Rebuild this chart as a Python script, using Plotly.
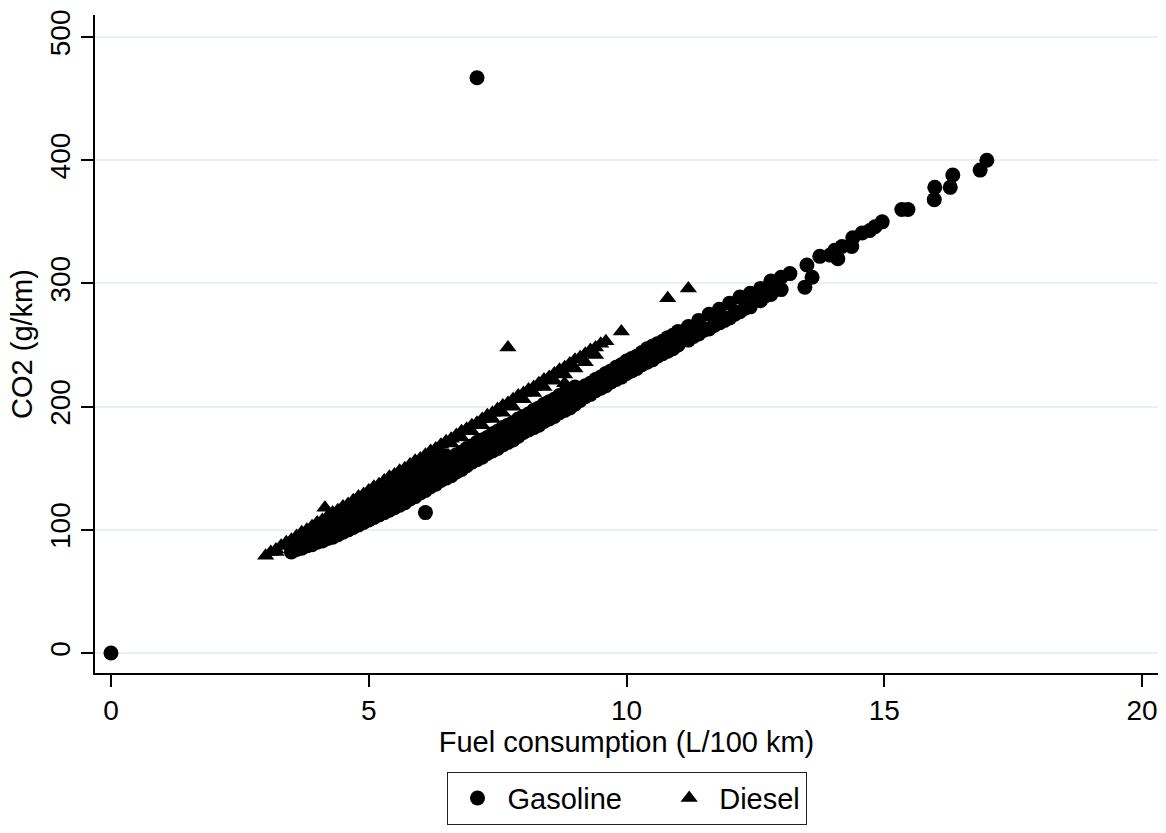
import plotly.graph_objects as go

# fuel consumption (L/100 km), CO2 (g/km)
gasoline_points = [
    (0.0, 0), (7.1, 467), (6.1, 114),
    (3.5, 82), (3.5, 86), (3.6, 84), (3.6, 89), (3.7, 85), (3.7, 91),
    (3.8, 87), (3.8, 91), (3.8, 95), (3.9, 88), (3.9, 93), (3.9, 97),
    (4.0, 90), (4.0, 95), (4.0, 100), (4.1, 91), (4.1, 97), (4.1, 102),
    (4.2, 93), (4.2, 99), (4.2, 105), (4.3, 94), (4.3, 101), (4.3, 107),
    (4.4, 96), (4.4, 103), (4.4, 110), (4.5, 98), (4.5, 105), (4.5, 112),
    (4.6, 100), (4.6, 107), (4.6, 114),
    (4.7, 102), (4.7, 108), (4.7, 115), (4.7, 117),
    (4.8, 104), (4.8, 110), (4.8, 116), (4.8, 120),
    (4.9, 106), (4.9, 112), (4.9, 118), (4.9, 122),
    (5.0, 108), (5.0, 114), (5.0, 120), (5.0, 125),
    (5.1, 110), (5.1, 116), (5.1, 122), (5.1, 127),
    (5.2, 112), (5.2, 118), (5.2, 124), (5.2, 130),
    (5.3, 114), (5.3, 120), (5.3, 126), (5.3, 132),
    (5.4, 116), (5.4, 122), (5.4, 129), (5.4, 135),
    (5.5, 118), (5.5, 124), (5.5, 131), (5.5, 137),
    (5.6, 120), (5.6, 127), (5.6, 134), (5.6, 140),
    (5.7, 122), (5.7, 129), (5.7, 136), (5.7, 142),
    (5.8, 125), (5.8, 132), (5.8, 139), (5.8, 145),
    (5.9, 127), (5.9, 134), (5.9, 141), (5.9, 147),
    (6.0, 130), (6.0, 137), (6.0, 144), (6.0, 150),
    (6.1, 132), (6.1, 139), (6.1, 146), (6.1, 152),
    (6.2, 135), (6.2, 142), (6.2, 149), (6.2, 155),
    (6.3, 137), (6.3, 144), (6.3, 151), (6.3, 157),
    (6.4, 140), (6.4, 147), (6.4, 153), (6.4, 160),
    (6.5, 142), (6.5, 149), (6.5, 155), (6.5, 160),
    (6.6, 144), (6.6, 151), (6.6, 158), (6.7, 147), (6.7, 153), (6.7, 161),
    (6.8, 149), (6.8, 156), (6.8, 163), (6.9, 152), (6.9, 159), (6.9, 166),
    (7.0, 155), (7.0, 161), (7.0, 168), (7.1, 157), (7.1, 164), (7.1, 171),
    (7.2, 159), (7.2, 166), (7.2, 173), (7.3, 162), (7.3, 169), (7.3, 175),
    (7.4, 164), (7.4, 171), (7.4, 178), (7.5, 166), (7.5, 173), (7.5, 180),
    (7.6, 169), (7.6, 176), (7.6, 183), (7.7, 171), (7.7, 178), (7.7, 185),
    (7.8, 173), (7.8, 180), (7.8, 187), (7.9, 176), (7.9, 183), (7.9, 190),
    (8.0, 179), (8.0, 185), (8.0, 192), (8.1, 181), (8.1, 188), (8.1, 194),
    (8.2, 183), (8.2, 190), (8.2, 197), (8.3, 185), (8.3, 192), (8.3, 199),
    (8.4, 188), (8.4, 195), (8.4, 202), (8.5, 190), (8.5, 197), (8.5, 204),
    (8.6, 192), (8.6, 199), (8.6, 206), (8.7, 195), (8.7, 202), (8.7, 209),
    (8.8, 197), (8.8, 204), (8.8, 211), (8.9, 199), (8.9, 206), (8.9, 213),
    (9.0, 202), (9.0, 209), (9.0, 216),
    (9.1, 205), (9.1, 213), (9.2, 208), (9.2, 217), (9.3, 210), (9.3, 219),
    (9.4, 213), (9.4, 222), (9.5, 215), (9.5, 224), (9.6, 217), (9.6, 227),
    (9.7, 220), (9.7, 229), (9.8, 222), (9.8, 232), (9.9, 224), (9.9, 234),
    (10.0, 227), (10.0, 237), (10.1, 229), (10.1, 239), (10.2, 231), (10.2, 241),
    (10.3, 234), (10.3, 244), (10.4, 236), (10.4, 247), (10.5, 238), (10.5, 249),
    (10.6, 241), (10.6, 251), (10.7, 243), (10.7, 253), (10.8, 245), (10.8, 256),
    (10.9, 247), (10.9, 258), (11.0, 250), (11.0, 261), (11.2, 254), (11.2, 265),
    (11.3, 257), (11.4, 259), (11.4, 270), (11.5, 262), (11.6, 263), (11.6, 275),
    (11.7, 266), (11.8, 268), (11.8, 279), (11.9, 270), (12.0, 272), (12.0, 284),
    (12.1, 275), (12.2, 277), (12.2, 289), (12.3, 280), (12.4, 281), (12.4, 292),
    (12.6, 286), (12.6, 296), (12.7, 290), (12.8, 291), (12.8, 302), (13.0, 295),
    (13.0, 305), (13.17, 308), (13.46, 297), (13.5, 315), (13.6, 305),
    (13.75, 322), (13.95, 323), (14.04, 327), (14.1, 320),
    (14.18, 330), (14.37, 330), (14.39, 337), (14.57, 341),
    (14.72, 343), (14.82, 346), (14.96, 350), (15.34, 360),
    (15.46, 360), (15.97, 368), (15.98, 378), (16.28, 378),
    (16.33, 388), (16.86, 392), (16.99, 400),
]

diesel_points = [
    (3.0, 79), (3.1, 82), (3.2, 84), (3.3, 87), (3.4, 90), (3.5, 92),
    (3.6, 95), (3.7, 98), (3.8, 100), (3.9, 103), (4.0, 106), (4.1, 108),
    (4.2, 111), (4.3, 114), (4.4, 116), (4.5, 119), (4.6, 121), (4.7, 124),
    (4.8, 127), (4.9, 129), (5.0, 132), (5.1, 135), (5.2, 137), (5.3, 140),
    (5.4, 143), (5.5, 145), (5.6, 148), (5.7, 150), (5.8, 153), (5.9, 156),
    (6.0, 158), (6.1, 161), (6.2, 164), (6.3, 166), (6.4, 169), (6.5, 172),
    (6.6, 174), (6.7, 177), (6.8, 180), (6.9, 182), (7.0, 185), (7.1, 187),
    (7.2, 190), (7.3, 193), (7.4, 195), (7.5, 198), (7.6, 201), (7.7, 203),
    (7.8, 206), (7.9, 209), (8.0, 211), (8.1, 214), (8.2, 216), (8.3, 219),
    (8.4, 222), (8.5, 224), (8.6, 227), (8.7, 230), (8.8, 232), (8.9, 235),
    (9.0, 238), (9.1, 240), (9.2, 243), (9.3, 246), (9.4, 248), (9.5, 251),
    (9.6, 253),
    (3.2, 82), (3.4, 87), (3.6, 93), (3.8, 98), (4.0, 103), (4.2, 108),
    (4.4, 113), (4.6, 118), (4.8, 123), (5.0, 129), (5.2, 134), (5.4, 139),
    (5.6, 144), (5.8, 149), (6.0, 154), (6.2, 159), (6.4, 164), (6.6, 170),
    (6.8, 175), (7.0, 180), (7.2, 185), (7.4, 190), (7.6, 195), (7.8, 200),
    (8.0, 206), (8.2, 211), (8.4, 216), (8.6, 221), (8.8, 226), (9.0, 231),
    (9.2, 236), (9.4, 242),
    (4.15, 118), (7.7, 248), (8.8, 219), (9.9, 261), (10.8, 288), (11.2, 296),
]

x_ticks = [0, 5, 10, 15, 20]
y_ticks = [0, 100, 200, 300, 400, 500]

FONT = "Arial, Liberation Sans, sans-serif"
grid_col = "#e9f0f2"

gx, gy = zip(*gasoline_points)
dx, dy = zip(*diesel_points)

fig = go.Figure()
fig.add_trace(go.Scatter(
    x=gx, y=gy, mode="markers",
    name="Gasoline\u00a0\u00a0\u00a0\u00a0",  # padding so the two keys sit apart like stata's
    marker=dict(symbol="circle", size=15, color="black", line=dict(width=0)),
))
fig.add_trace(go.Scatter(
    x=dx, y=dy, mode="markers", name="Diesel",
    marker=dict(symbol="triangle-up", size=15, color="black", line=dict(width=0)),
))

axis_common = dict(
    showline=True, linecolor="black", linewidth=1.5,
    ticks="outside", ticklen=12, tickwidth=1.5, tickcolor="black",
    showgrid=True, gridcolor=grid_col, gridwidth=2,
    zeroline=False, mirror=False,
    tickfont=dict(size=28, color="black", family=FONT),
)

fig.update_layout(
    width=1166, height=833,
    paper_bgcolor="white", plot_bgcolor="white",
    margin=dict(l=95, r=8, t=15, b=160),
    font=dict(family=FONT, color="black", size=28),
    xaxis=dict(
        axis_common, range=[-0.31, 20.31], tickvals=x_ticks, showgrid=False,
        title=dict(text="Fuel consumption (L/100 km)", standoff=2,
                   font=dict(size=29, family=FONT)),
    ),
    yaxis=dict(
        axis_common, range=[-16.2, 517.9], tickvals=y_ticks, tickangle=-90,
        title=dict(text="CO2 (g/km)", standoff=4, font=dict(size=29, family=FONT)),
    ),
    showlegend=True,
    legend=dict(
        orientation="h", x=0.5, xanchor="center", y=-0.15, yanchor="top",
        bordercolor="#222222", borderwidth=1, bgcolor="white",
        itemwidth=50,
        font=dict(size=29, family=FONT, color="black"),
    ),
)

fig.write_html("out.html", config={"displayModeBar": False},
               post_script="document.body.style.margin='0';")
